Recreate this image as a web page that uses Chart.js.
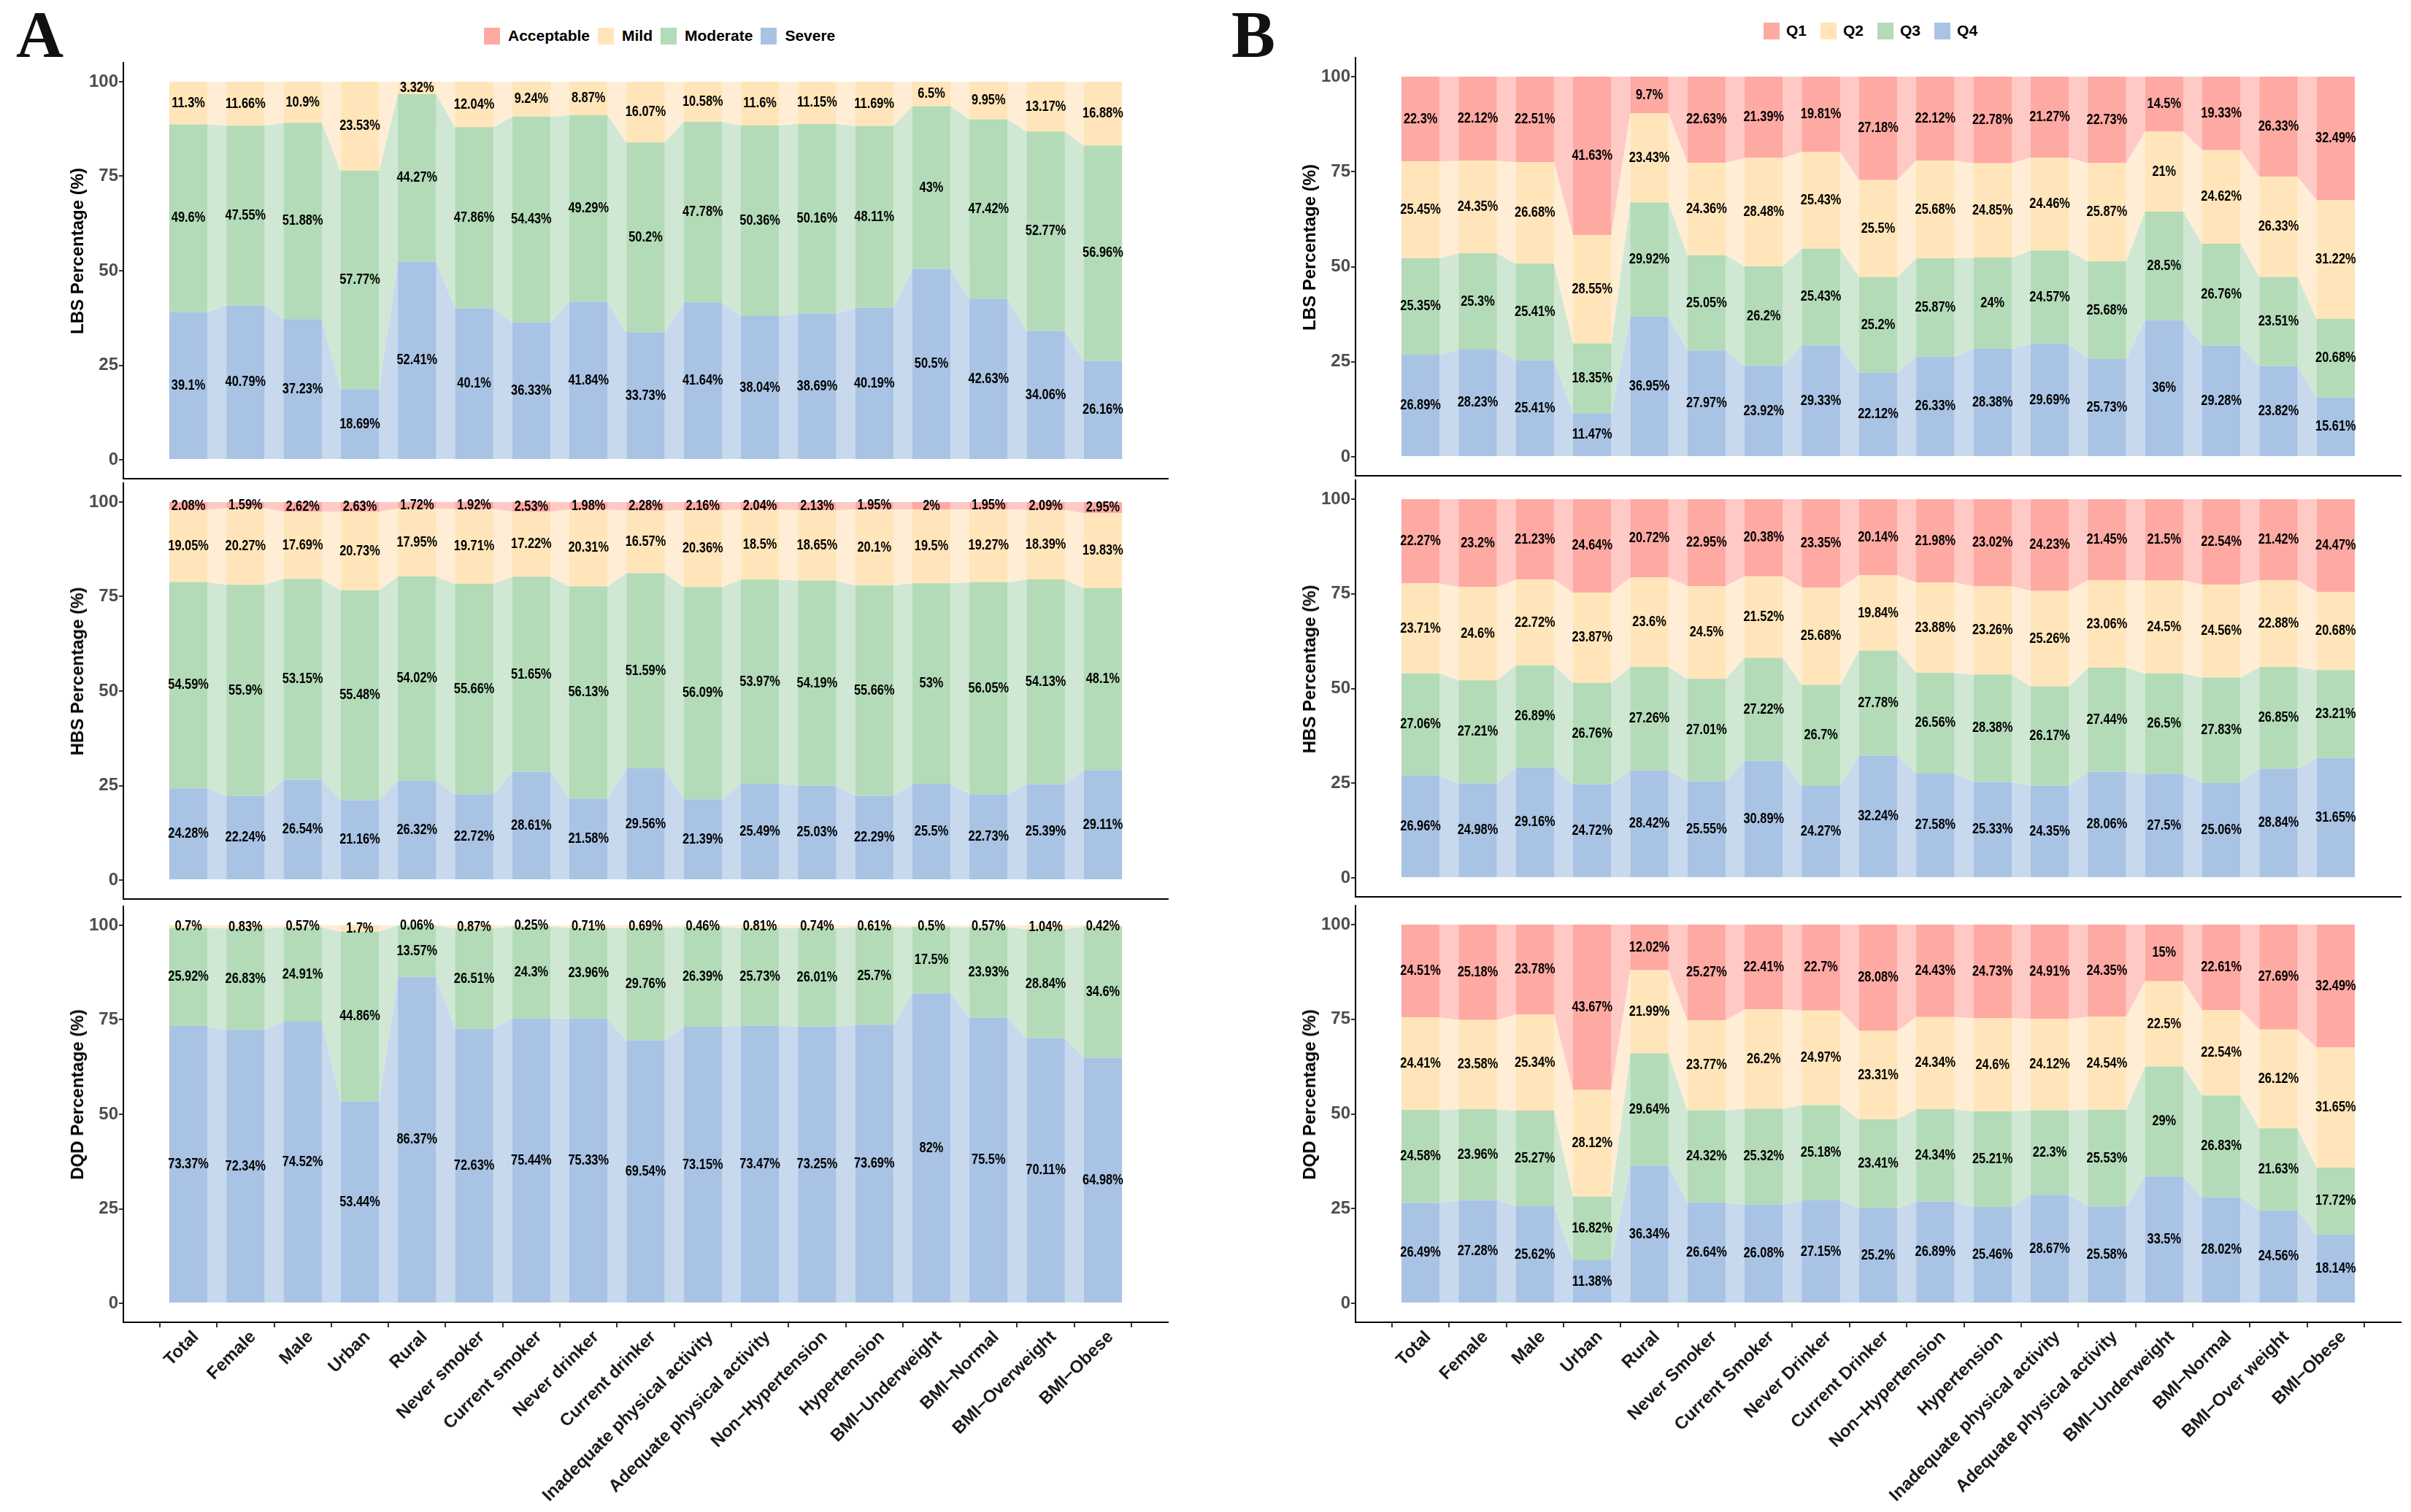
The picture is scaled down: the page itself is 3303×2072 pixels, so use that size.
<!DOCTYPE html>
<html>
<head>
<meta charset="utf-8">
<script src="https://cdn.jsdelivr.net/npm/chart.js@4.4.1/dist/chart.umd.min.js"></script>
<style>
  html, body { margin: 0; padding: 0; background: #fff; }
  body { position: relative; width: 3303px; height: 2072px; overflow: hidden; font-family: "Liberation Sans", Arial, sans-serif; }
  canvas { position: absolute; }
  .letter { position: absolute; font: bold 90px "Liberation Serif", serif; line-height: 90px; color: #111; }
  .legend { position: absolute; display: flex; align-items: center; font-weight: bold; font-size: 21px; color: #000; height: 24px; }
  .legend .sw { display: inline-block; width: 22px; height: 23px; }
  .ytitle { position: absolute; font: bold 24px "Liberation Sans", Arial, sans-serif; color: #000; white-space: nowrap; transform: translate(-50%, -50%) rotate(-90deg); }
</style>
</head>
<body>
<div class="letter" style="left:22px; top:3px;">A</div>
<div class="letter" style="left:1687px; top:3px;">B</div>
<div class="legend" id="legA" style="left:663px; top:37px;"></div>
<div class="legend" id="legB" style="left:2416px; top:30px;"></div>

<script>
// categories
const catsA = ['Total', 'Female', 'Male', 'Urban', 'Rural', 'Never smoker', 'Current smoker', 'Never drinker', 'Current drinker',
  'Inadequate physical activity', 'Adequate physical activity', 'Non\u2212Hypertension', 'Hypertension',
  'BMI\u2212Underweight', 'BMI\u2212Normal', 'BMI\u2212Overweight', 'BMI\u2212Obese'];
const catsB = ['Total', 'Female', 'Male', 'Urban', 'Rural', 'Never Smoker', 'Current Smoker', 'Never Drinker', 'Current Drinker',
  'Non\u2212Hypertension', 'Hypertension', 'Inadequate physical activity', 'Adequate physical activity',
  'BMI\u2212Underweight', 'BMI\u2212Normal', 'BMI\u2212Over weight', 'BMI\u2212Obese'];
const yTicks = [0, 25, 50, 75, 100];

// A - LBS
const lbsSevere     = [39.1, 40.79, 37.23, 18.69, 52.41, 40.1, 36.33, 41.84, 33.73, 41.64, 38.04, 38.69, 40.19, 50.5, 42.63, 34.06, 26.16];
const lbsModerate   = [49.6, 47.55, 51.88, 57.77, 44.27, 47.86, 54.43, 49.29, 50.2, 47.78, 50.36, 50.16, 48.11, 43, 47.42, 52.77, 56.96];
const lbsMild       = [11.3, 11.66, 10.9, 23.53, 3.32, 12.04, 9.24, 8.87, 16.07, 10.58, 11.6, 11.15, 11.69, 6.5, 9.95, 13.17, 16.88];
const lbsAcceptable = [0, 0, 0, 0, 0, 0, 0, 0, 0, 0, 0, 0, 0, 0, 0, 0, 0];
// A - HBS
const hbsSevere     = [24.28, 22.24, 26.54, 21.16, 26.32, 22.72, 28.61, 21.58, 29.56, 21.39, 25.49, 25.03, 22.29, 25.5, 22.73, 25.39, 29.11];
const hbsModerate   = [54.59, 55.9, 53.15, 55.48, 54.02, 55.66, 51.65, 56.13, 51.59, 56.09, 53.97, 54.19, 55.66, 53, 56.05, 54.13, 48.1];
const hbsMild       = [19.05, 20.27, 17.69, 20.73, 17.95, 19.71, 17.22, 20.31, 16.57, 20.36, 18.5, 18.65, 20.1, 19.5, 19.27, 18.39, 19.83];
const hbsAcceptable = [2.08, 1.59, 2.62, 2.63, 1.72, 1.92, 2.53, 1.98, 2.28, 2.16, 2.04, 2.13, 1.95, 2, 1.95, 2.09, 2.95];
// A - DQD
const dqdSevere     = [73.37, 72.34, 74.52, 53.44, 86.37, 72.63, 75.44, 75.33, 69.54, 73.15, 73.47, 73.25, 73.69, 82, 75.5, 70.11, 64.98];
const dqdModerate   = [25.92, 26.83, 24.91, 44.86, 13.57, 26.51, 24.3, 23.96, 29.76, 26.39, 25.73, 26.01, 25.7, 17.5, 23.93, 28.84, 34.6];
const dqdMild       = [0.7, 0.83, 0.57, 1.7, 0.06, 0.87, 0.25, 0.71, 0.69, 0.46, 0.81, 0.74, 0.61, 0.5, 0.57, 1.04, 0.42];
const dqdAcceptable = [0, 0, 0, 0, 0, 0, 0, 0, 0, 0, 0, 0, 0, 0, 0, 0, 0];

// B - LBS quartiles
const lbsQ4 = [26.89, 28.23, 25.41, 11.47, 36.95, 27.97, 23.92, 29.33, 22.12, 26.33, 28.38, 29.69, 25.73, 36, 29.28, 23.82, 15.61];
const lbsQ3 = [25.35, 25.3, 25.41, 18.35, 29.92, 25.05, 26.2, 25.43, 25.2, 25.87, 24, 24.57, 25.68, 28.5, 26.76, 23.51, 20.68];
const lbsQ2 = [25.45, 24.35, 26.68, 28.55, 23.43, 24.36, 28.48, 25.43, 25.5, 25.68, 24.85, 24.46, 25.87, 21, 24.62, 26.33, 31.22];
const lbsQ1 = [22.3, 22.12, 22.51, 41.63, 9.7, 22.63, 21.39, 19.81, 27.18, 22.12, 22.78, 21.27, 22.73, 14.5, 19.33, 26.33, 32.49];
// B - HBS quartiles
const hbsQ4 = [26.96, 24.98, 29.16, 24.72, 28.42, 25.55, 30.89, 24.27, 32.24, 27.58, 25.33, 24.35, 28.06, 27.5, 25.06, 28.84, 31.65];
const hbsQ3 = [27.06, 27.21, 26.89, 26.76, 27.26, 27.01, 27.22, 26.7, 27.78, 26.56, 28.38, 26.17, 27.44, 26.5, 27.83, 26.85, 23.21];
const hbsQ2 = [23.71, 24.6, 22.72, 23.87, 23.6, 24.5, 21.52, 25.68, 19.84, 23.88, 23.26, 25.26, 23.06, 24.5, 24.56, 22.88, 20.68];
const hbsQ1 = [22.27, 23.2, 21.23, 24.64, 20.72, 22.95, 20.38, 23.35, 20.14, 21.98, 23.02, 24.23, 21.45, 21.5, 22.54, 21.42, 24.47];
// B - DQD quartiles
const dqdQ4 = [26.49, 27.28, 25.62, 11.38, 36.34, 26.64, 26.08, 27.15, 25.2, 26.89, 25.46, 28.67, 25.58, 33.5, 28.02, 24.56, 18.14];
const dqdQ3 = [24.58, 23.96, 25.27, 16.82, 29.64, 24.32, 25.32, 25.18, 23.41, 24.34, 25.21, 22.3, 25.53, 29, 26.83, 21.63, 17.72];
const dqdQ2 = [24.41, 23.58, 25.34, 28.12, 21.99, 23.77, 26.2, 24.97, 23.31, 24.34, 24.6, 24.12, 24.54, 22.5, 22.54, 26.12, 31.65];
const dqdQ1 = [24.51, 25.18, 23.78, 43.67, 12.02, 25.27, 22.41, 22.7, 28.08, 24.43, 24.73, 24.91, 24.35, 15, 22.61, 27.69, 32.49];

const namesA = ['Severe', 'Moderate', 'Mild', 'Acceptable'];
const namesB = ['Q4', 'Q3', 'Q2', 'Q1'];

// colours, bottom stratum first
const barColors  = ['#A9C3E4', '#B3DBB8', '#FFE5B9', '#FFA9A3'];
const flowColors = ['#C8D9EE', '#D0E8D3', '#FFEED5', '#FFCAC6'];

// legends (ggplot order: top stratum first)
function buildLegend(id, names, gapText, gapItem) {
  const box = document.getElementById(id);
  for (let k = names.length - 1; k >= 0; k--) {
    const sw = document.createElement('span');
    sw.className = 'sw';
    sw.style.background = barColors[k];
    sw.style.marginRight = gapText + 'px';
    const lb = document.createElement('span');
    lb.textContent = names[k];
    lb.style.marginRight = gapItem + 'px';
    box.appendChild(sw);
    box.appendChild(lb);
  }
}
buildLegend('legA', namesA, 11, 11);
buildLegend('legB', namesB, 9, 19);

// flows between neighbouring strata
const flowPlugin = {
  id: 'flows',
  beforeDatasetsDraw(chart) {
    const ctx = chart.ctx;
    ctx.save();
    chart.data.datasets.forEach((ds, d) => {
      const bars = chart.getDatasetMeta(d).data;
      ctx.fillStyle = ds.flowColor;
      for (let i = 0; i < bars.length - 1; i++) {
        const a = bars[i].getProps(['x', 'y', 'base', 'width'], true);
        const b = bars[i + 1].getProps(['x', 'y', 'base', 'width'], true);
        if (Math.abs(a.base - a.y) < 0.01 && Math.abs(b.base - b.y) < 0.01) continue;
        ctx.beginPath();
        ctx.moveTo(a.x + a.width / 2, a.y);
        ctx.lineTo(b.x - b.width / 2, b.y);
        ctx.lineTo(b.x - b.width / 2, b.base);
        ctx.lineTo(a.x + a.width / 2, a.base);
        ctx.closePath();
        ctx.fill();
      }
    });
    ctx.restore();
  }
};

// percentage text in the middle of each stratum
const labelPlugin = {
  id: 'segLabels',
  afterDatasetsDraw(chart) {
    const ctx = chart.ctx;
    ctx.save();
    ctx.font = 'bold 20px "Liberation Sans", Arial, sans-serif';
    ctx.fillStyle = '#000';
    ctx.textAlign = 'center';
    ctx.textBaseline = 'middle';
    chart.data.datasets.forEach((ds, d) => {
      chart.getDatasetMeta(d).data.forEach((bar, i) => {
        const v = ds.data[i].y;
        if (!v) return;
        const p = bar.getProps(['x', 'y', 'base'], true);
        ctx.save();
        ctx.translate(p.x, (p.y + p.base) / 2);
        ctx.scale(0.82, 1);
        ctx.fillText(v + '%', 0, 0);
        ctx.restore();
      });
    });
    ctx.restore();
  }
};

// category names under the bottom panels, 45 degrees, right/top justified at the tick
const xLabelPlugin = {
  id: 'catLabels',
  afterDraw(chart, args, opts) {
    const sx = chart.scales.x;
    const ctx = chart.ctx;
    ctx.save();
    ctx.font = 'bold 24px "Liberation Sans", Arial, sans-serif';
    ctx.fillStyle = '#1a1a1a';
    ctx.textAlign = 'right';
    ctx.textBaseline = 'top';
    sx.ticks.forEach((t, i) => {
      ctx.save();
      ctx.translate(sx.getPixelForTick(i) + 2, sx.top + 8);
      ctx.rotate(-Math.PI / 4);
      ctx.fillText(opts.labels[t.value], 0, 0);
      ctx.restore();
    });
    ctx.restore();
  }
};

const charts = [
  { cats: catsA, names: namesA, series: [lbsSevere, lbsModerate, lbsMild, lbsAcceptable], title: 'LBS Percentage (%)', area: [169, 86, 1600, 656], showX: false },
  { cats: catsA, names: namesA, series: [hbsSevere, hbsModerate, hbsMild, hbsAcceptable], title: 'HBS Percentage (%)', area: [169, 662, 1600, 1232], showX: false },
  { cats: catsA, names: namesA, series: [dqdSevere, dqdModerate, dqdMild, dqdAcceptable], title: 'DQD Percentage (%)', area: [169, 1242, 1600, 1812], showX: true },
  { cats: catsB, names: namesB, series: [lbsQ4, lbsQ3, lbsQ2, lbsQ1], title: 'LBS Percentage (%)', area: [1857, 79, 3289, 652], showX: false },
  { cats: catsB, names: namesB, series: [hbsQ4, hbsQ3, hbsQ2, hbsQ1], title: 'HBS Percentage (%)', area: [1857, 658, 3289, 1229], showX: false },
  { cats: catsB, names: namesB, series: [dqdQ4, dqdQ3, dqdQ2, dqdQ1], title: 'DQD Percentage (%)', area: [1857, 1241, 3289, 1812], showX: true }
];

const Y_AXIS_W = 169;
const PAGE_H = 2072;

charts.forEach(c => {
  const [aL, aT, aR, aB] = c.area;
  const left = aL - Y_AXIS_W;
  const top = aT - 4;
  const width = aR - left + 2;
  const height = c.showX ? PAGE_H - top : (aB - aT) + 8;

  const cv = document.createElement('canvas');
  cv.width = width;
  cv.height = height;
  cv.style.left = left + 'px';
  cv.style.top = top + 'px';
  cv.style.width = width + 'px';
  cv.style.height = height + 'px';
  document.body.appendChild(cv);

  // rotated y title, sits a little above the panel centre like the original
  const t = document.createElement('div');
  t.className = 'ytitle';
  t.textContent = c.title;
  t.style.left = (left + 106) + 'px';
  t.style.top = ((aT + aB) / 2 - 27) + 'px';
  document.body.appendChild(t);

  const n = c.cats.length;
  new Chart(cv, {
    type: 'bar',
    data: {
      datasets: c.series.map((vals, k) => ({
        label: c.names[k],
        data: vals.map((v, i) => ({ x: i, y: v })),
        backgroundColor: barColors[k],
        flowColor: flowColors[k],
        borderWidth: 0,
        categoryPercentage: 1,
        barPercentage: 0.67
      }))
    },
    options: {
      responsive: false,
      devicePixelRatio: 1,
      animation: false,
      layout: { padding: { top: 4, bottom: c.showX ? 0 : 4, left: 0, right: 2 } },
      plugins: {
        legend: { display: false },
        tooltip: { enabled: false },
        title: { display: false },
        catLabels: { labels: c.cats }
      },
      scales: {
        x: {
          type: 'linear',
          min: -0.6,
          max: n - 0.4,
          stacked: true,
          afterBuildTicks: s => { s.ticks = c.cats.map((_, i) => ({ value: i })); },
          ticks: { display: false },
          grid: { display: c.showX, drawOnChartArea: false, drawTicks: true, tickLength: 7, color: '#333', lineWidth: 2 },
          border: { display: true, color: '#000', width: 2 },
          afterFit: s => { s.height = c.showX ? PAGE_H - aB : 0; s.paddingLeft = 0; s.paddingRight = 0; }
        },
        y: {
          stacked: true,
          min: -5,
          max: 105,
          afterBuildTicks: s => { s.ticks = yTicks.map(v => ({ value: v })); },
          ticks: {
            color: '#4D4D4D',
            padding: 1,
            font: { family: '"Liberation Sans", Arial, sans-serif', size: 24, weight: 'bold' }
          },
          grid: { display: true, drawOnChartArea: false, drawTicks: true, tickLength: 6, color: '#333', lineWidth: 2 },
          border: { display: true, color: '#000', width: 2 },
          afterFit: s => { s.width = Y_AXIS_W; s.paddingTop = 0; s.paddingBottom = 0; }
        }
      }
    },
    plugins: c.showX ? [flowPlugin, labelPlugin, xLabelPlugin] : [flowPlugin, labelPlugin]
  });
});
</script>
</body>
</html>
